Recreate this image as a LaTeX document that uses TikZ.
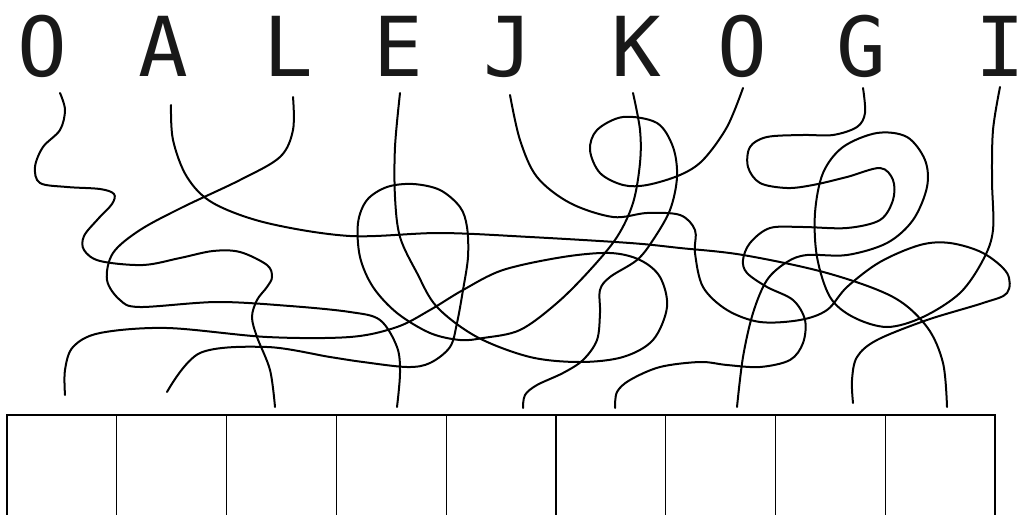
\documentclass[tikz,border=0pt]{standalone}
\usepackage{fontspec}
\setmonofont{DejaVu Sans Mono}
\usepackage{tikz}
\usetikzlibrary{positioning,calc}

\begin{document}
\begin{tikzpicture}[
        x=0.75pt, y=-0.75pt,
        letter/.style={anchor=base, inner sep=0pt, text=black!90,
            font=\ttfamily\fontsize{62}{62}\selectfont},
        slot/.style={draw, rectangle, line width=0.9pt, inner sep=0pt,
            minimum width=82.35pt, minimum height=82.5pt},
        wire/.style={line width=1.5pt, line cap=round, smooth, tension=0.55}
    ]
    \clip (0,0) rectangle (1024,514);
    % letters on top
    \node[letter] (lo1) at (42,76) {O};
    \node[letter] (la) at (163,76) {A};
    \node[letter] (ll) at (288,76) {L};
    \node[letter] (le) at (398,76) {E};
    \node[letter] (lj) at (508,76) {J};
    \node[letter] (lk) at (636,76) {K};
    \node[letter] (lo2) at (742,76) {O};
    \node[letter] (lg) at (861,76) {G};
    \node[letter] (li) at (1000,76) {I};
    % answer boxes
    \foreach \i in {1,...,9}
        \node[slot] (s\i) at ({7+(\i-0.5)*109.78},470) {};
    % tangled lines
    \draw[wire] plot coordinates {(60,93) (65,110) (60,130) (43,147) (35,167) (40,183)
        (67,187) (100,189) (114,194) (112,204) (98,219) (84,236) (84,250) (100,261)
        (143,265) (180,258) (213,251) (240,252) (267,265) (272,277) (267,287)
        (257,300) (252,317) (257,337) (270,370) (275,407)};
    \draw[wire] plot coordinates {(171,105) (173,140) (187,177) (213,203) (267,223)
        (350,236) (440,233) (530,237) (630,243) (680,248) (743,255) (827,273)
        (893,297) (927,327) (943,363) (947,407)};
    \draw[wire] plot coordinates {(293,97) (293,130) (280,157) (240,180) (183,207)
        (140,230) (113,253) (107,280) (120,300) (140,307) (217,302) (290,306)
        (350,312) (380,320) (397,347) (400,373) (397,407)};
    \draw[wire] plot coordinates {(400,93) (395,147) (395,197) (400,237) (417,273)
        (437,307) (477,337) (530,357) (580,362) (623,357) (653,340) (667,307)
        (660,277) (640,260) (610,253) (563,257) (503,270) (463,290) (430,310)
        (397,327) (350,337) (267,337) (167,328) (100,333) (73,347) (65,370) (65,395)};
    \draw[wire] plot coordinates {(510,95) (520,140) (537,177) (570,203) (613,217)
        (647,213) (680,215) (695,230) (695,253) (703,287) (727,310) (760,322)
        (800,320) (827,310) (847,287) (880,262) (920,245) (950,243) (983,253)
        (1007,273) (1007,293) (983,303) (927,320) (877,340) (857,357) (852,380)
        (853,403)};
    \draw[wire] plot coordinates {(633,93) (640,130) (640,163) (633,203) (617,237)
        (590,270) (557,303) (520,330) (483,338) (460,340) (430,333) (397,313)
        (373,287) (360,257) (358,223) (367,200) (387,187) (413,184) (440,190)
        (460,207) (467,227) (468,257) (463,290) (457,323) (450,347) (430,363)
        (407,367) (363,362) (330,357) (267,347) (200,353) (167,392)};
    \draw[wire] plot coordinates {(743,88) (727,127) (703,160) (680,175) (647,185)
        (623,185) (600,173) (590,150) (597,130) (623,117) (657,123) (673,147)
        (677,177) (670,210) (653,240) (637,260) (610,277) (600,290) (600,313)
        (597,340) (583,360) (563,373) (537,385) (525,395) (523,408)};
    \draw[wire] plot coordinates {(863,88) (865,113) (857,127) (833,135) (803,135)
        (767,137) (750,147) (748,167) (760,183) (787,188) (813,185) (847,177)
        (880,168) (893,180) (893,200) (880,220) (847,228) (803,227) (770,228)
        (750,243) (743,260) (747,273) (767,287) (793,300) (805,320) (803,343)
        (790,360) (760,367) (727,365) (700,362) (660,367) (630,380) (617,392)
        (615,408)};
    \draw[wire] plot coordinates {(1000,87) (993,130) (992,180) (993,230) (983,260)
        (960,293) (923,317) (887,327) (853,317) (830,297) (817,257) (815,213)
        (823,173) (843,147) (877,133) (907,137) (925,160) (927,187) (913,220)
        (887,243) (847,255) (807,255) (787,262) (767,280) (753,313) (743,357)
        (737,407)};
\end{tikzpicture}
\end{document}
